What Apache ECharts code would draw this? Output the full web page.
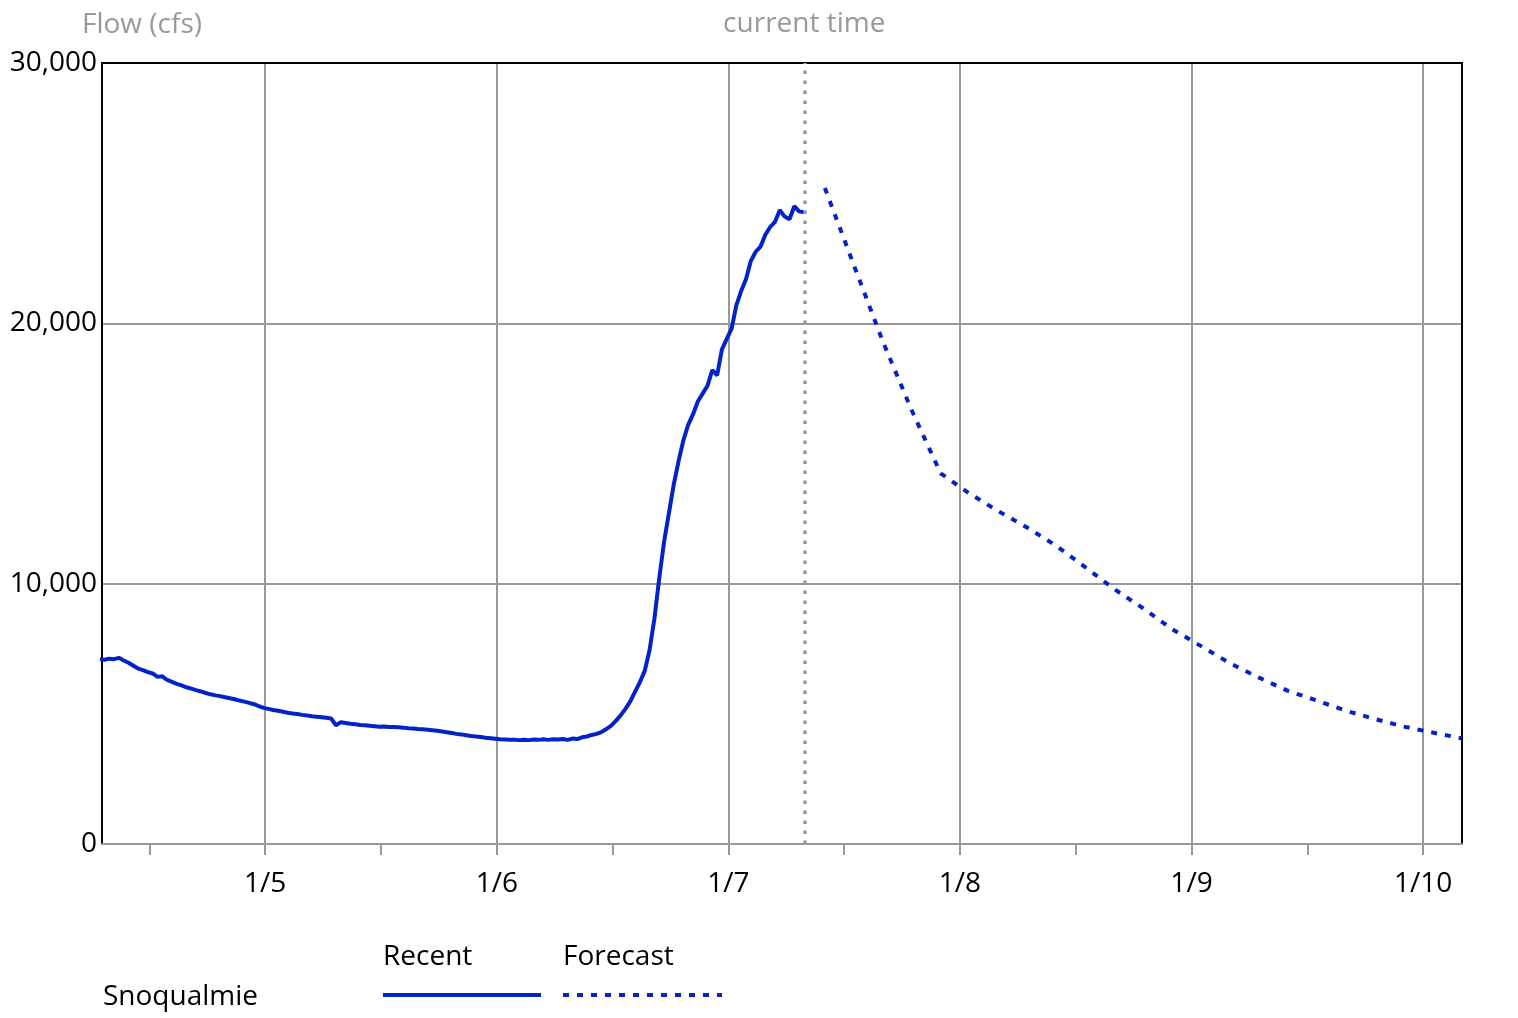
<!DOCTYPE html>
<html>
<head>
<meta charset="utf-8">
<title>Snoqualmie flow</title>
<script src="https://cdn.jsdelivr.net/npm/echarts@6/dist/echarts.min.js"></script>
<style>
  html, body { margin: 0; padding: 0; background: #fff; }
  #chart { width: 1518px; height: 1018px; }
</style>
</head>
<body>
<div id="chart"></div>
<script>
// observed flow, every 30 min starting 1/4 06:50
const recentStart = new Date(2022, 0, 4, 6, 50).getTime();
const recentStepMin = 30;
const recentValues = [
  7100, 7080, 7120, 7100, 7150, 7050, 6960, 6850, 6740, 6680,
  6600, 6550, 6420, 6440, 6300, 6230, 6150, 6090, 6020, 5970,
  5910, 5860, 5800, 5750, 5710, 5680, 5640, 5600, 5560, 5510,
  5470, 5420, 5370, 5300, 5230, 5190, 5150, 5120, 5080, 5040,
  5010, 4990, 4960, 4940, 4910, 4890, 4870, 4850, 4820, 4560,
  4680, 4650, 4620, 4600, 4570, 4560, 4540, 4520, 4500, 4510,
  4490, 4490, 4480, 4470, 4450, 4440, 4420, 4410, 4390, 4370,
  4350, 4320, 4290, 4260, 4230, 4210, 4180, 4150, 4130, 4110,
  4080, 4060, 4040, 4020, 4010, 4000, 4000, 3990, 4000, 3990,
  4010, 4000, 4020, 4000, 4020, 4010, 4030, 4000, 4050, 4030,
  4100, 4130, 4190, 4230, 4300, 4410, 4540, 4730, 4940, 5190,
  5480, 5850, 6220, 6650, 7450, 8650, 10200, 11600, 12700, 13800,
  14700, 15500, 16100, 16500, 17000, 17300, 17600, 18200, 18000, 19000,
  19400, 19800, 20700, 21250, 21700, 22400, 22750, 22950, 23400, 23700,
  23900, 24350, 24100, 24000, 24500, 24300, 24270
];

// forecast flow, every 3 h starting 1/7 10:00
const forecastStart = new Date(2022, 0, 7, 10, 0).getTime();
const forecastStepMin = 180;
const forecastValues = [
  25200, 22240, 19310, 16660, 14240, 13460, 12780, 12150, 11450, 10630,
  9790, 9050, 8250, 7600, 6940, 6390, 5880, 5510, 5120, 4800,
  4510, 4280, 4060
];

const yTicks = [0, 10000, 20000, 30000];
const legendLabels = ['Recent', 'Forecast'];
const stationName = 'Snoqualmie';
const currentTime = new Date(2022, 0, 7, 7, 52).getTime();
const axisMin = new Date(2022, 0, 4, 7, 5).getTime();
const axisMax = new Date(2022, 0, 10, 4, 2).getTime();

const BLUE = '#0323c8';
const GRAY = '#999999';
const FONT = '"Open Sans", "Noto Sans", sans-serif';
const FS = 28;
const HOUR = 3600 * 1000;

// half-day tick marks along the time axis
const halfDayTicks = [];
for (let t = new Date(2022, 0, 4, 12).getTime(); t < axisMax; t += 12 * HOUR) halfDayTicks.push(t);

const toPairs = (start, stepMin, vals) =>
  vals.map((v, i) => [start + i * stepMin * 60000, v]);

const chart = echarts.init(document.getElementById('chart'));

chart.setOption({
  animation: false,
  textStyle: { fontFamily: FONT },
  grid: { left: 102, right: 56, top: 63, bottom: 174, containLabel: false },
  xAxis: [
    {
      type: 'time', position: 'bottom', min: axisMin, max: axisMax,
      minInterval: 24 * HOUR, maxInterval: 24 * HOUR,
      axisLine: { show: true, lineStyle: { color: GRAY, width: 2 } },
      axisTick: { show: false },
      axisLabel: {
        color: '#000', fontSize: FS, margin: 26, showMinLabel: false, showMaxLabel: false,
        formatter: v => { const d = new Date(v); return (d.getMonth() + 1) + '/' + d.getDate(); }
      },
      splitLine: { show: true, lineStyle: { color: GRAY, width: 2 } }
    },
    {
      type: 'time', position: 'bottom', min: axisMin, max: axisMax,
      axisLine: { show: false },
      axisTick: { show: true, length: 11, customValues: halfDayTicks, lineStyle: { color: GRAY, width: 2 } },
      axisLabel: { show: false },
      splitLine: { show: false }
    },
    {
      type: 'value', position: 'top', min: 0, max: 1,
      axisLine: { show: true, lineStyle: { color: '#000', width: 2 } },
      axisTick: { show: false }, axisLabel: { show: false }, splitLine: { show: false }
    }
  ],
  yAxis: [
    {
      type: 'value', position: 'left', min: yTicks[0], max: yTicks[yTicks.length - 1],
      interval: yTicks[1] - yTicks[0],
      name: 'Flow (cfs)', nameLocation: 'end', nameGap: 24,
      nameTextStyle: { color: GRAY, fontSize: FS, align: 'center', padding: [0, 0, 0, 80] },
      axisLine: { show: true, lineStyle: { color: '#000', width: 2 } },
      axisTick: { show: false },
      axisLabel: { color: '#000', fontSize: FS, margin: 5 },
      splitLine: { show: true, showMinLine: false, showMaxLine: false, lineStyle: { color: GRAY, width: 2 } }
    },
    {
      type: 'value', position: 'right', min: 0, max: 1,
      axisLine: { show: true, lineStyle: { color: '#000', width: 2 } },
      axisTick: { show: false }, axisLabel: { show: false }, splitLine: { show: false }
    }
  ],
  series: [
    {
      name: legendLabels[0], type: 'line', xAxisIndex: 0, yAxisIndex: 0,
      data: toPairs(recentStart, recentStepMin, recentValues),
      showSymbol: false, smooth: false,
      lineStyle: { color: BLUE, width: 4 },
      markLine: {
        silent: true, symbol: 'none',
        lineStyle: { color: GRAY, width: 3.5, type: [3.5, 6.5] },
        label: { show: true, position: 'end', formatter: 'current time', color: GRAY, fontSize: FS, distance: 25 },
        data: [{ xAxis: currentTime }]
      }
    },
    {
      name: legendLabels[1], type: 'line', xAxisIndex: 0, yAxisIndex: 0,
      data: toPairs(forecastStart, forecastStepMin, forecastValues),
      showSymbol: false, smooth: false,
      lineStyle: { color: BLUE, width: 4, type: [6, 8] }
    }
  ],
  graphic: [
    { type: 'text', left: 383, top: 943, style: { text: legendLabels[0], font: FS + 'px ' + FONT, fill: '#000' } },
    { type: 'text', left: 563, top: 943, style: { text: legendLabels[1], font: FS + 'px ' + FONT, fill: '#000' } },
    { type: 'text', left: 103, top: 983, style: { text: stationName, font: FS + 'px ' + FONT, fill: '#000' } },
    { type: 'line', shape: { x1: 383, y1: 995, x2: 541, y2: 995 }, style: { stroke: BLUE, lineWidth: 4 } },
    { type: 'line', shape: { x1: 563, y1: 995, x2: 722, y2: 995 }, style: { stroke: BLUE, lineWidth: 4, lineDash: [6, 8] } }
  ]
});
</script>
</body>
</html>
